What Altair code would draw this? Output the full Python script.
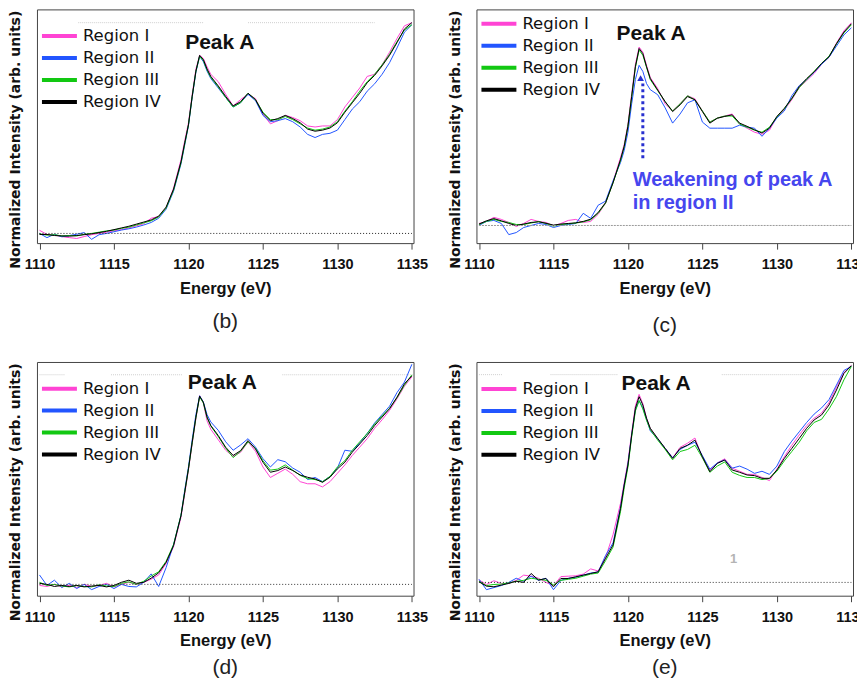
import altair as alt
import pandas as pd

# ---------------- data ----------------
ENERGY = [1110, 1110.5, 1111, 1111.5, 1112, 1112.5, 1113, 1113.5, 1114, 1114.5,
          1115, 1115.5, 1116, 1116.5, 1117, 1117.5, 1118, 1118.5, 1119, 1119.5,
          1119.75, 1120, 1120.25, 1120.5, 1120.75, 1121, 1121.25, 1121.5, 1122, 1122.5,
          1123, 1123.5, 1124, 1124.5, 1125, 1125.5, 1126, 1126.5, 1127, 1127.5,
          1128, 1128.5, 1129, 1129.5, 1130, 1130.5, 1131, 1131.5, 1132, 1132.5,
          1133, 1133.5, 1134, 1134.5, 1135]
REGIONS = ["Region I", "Region II", "Region III", "Region IV"]
COLORS = ["#ff44d4", "#2255ff", "#12c812", "#000000"]
X_TICKS = [1110, 1115, 1120, 1125, 1130, 1135]

B_I = [0.015, -0.005, -0.008, -0.015, -0.020, -0.024, -0.015, -0.006, 0.000, 0.006,
       0.012, 0.018, 0.026, 0.036, 0.046, 0.072, 0.080, 0.12, 0.215, 0.35,
       0.44, 0.525, 0.66, 0.78, 0.845, 0.83, 0.79, 0.755, 0.72, 0.66,
       0.605, 0.635, 0.66, 0.64, 0.565, 0.52, 0.535, 0.56, 0.55, 0.535,
       0.51, 0.505, 0.51, 0.51, 0.54, 0.60, 0.645, 0.69, 0.745, 0.755,
       0.80, 0.86, 0.925, 0.985, 1.0]
B_II = [0.0, -0.02, -0.004, -0.016, -0.010, -0.004, 0.004, -0.028, -0.006, 0.000,
        0.008, 0.016, 0.022, 0.030, 0.040, 0.052, 0.072, 0.115, 0.20, 0.33,
        0.42, 0.51, 0.645, 0.765, 0.84, 0.815, 0.77, 0.735, 0.69, 0.645,
        0.60, 0.62, 0.66, 0.63, 0.56, 0.53, 0.535, 0.545, 0.53, 0.505,
        0.47, 0.455, 0.47, 0.475, 0.49, 0.54, 0.59, 0.625, 0.675, 0.71,
        0.755, 0.81, 0.88, 0.955, 0.99]
B_III = [-0.002, -0.008, -0.006, -0.012, -0.010, -0.012, -0.004, 0.000, 0.006, 0.012,
         0.016, 0.024, 0.030, 0.040, 0.050, 0.060, 0.078, 0.12, 0.205, 0.335,
         0.425, 0.515, 0.65, 0.77, 0.84, 0.82, 0.775, 0.74, 0.695, 0.645,
         0.60, 0.62, 0.665, 0.635, 0.575, 0.54, 0.54, 0.555, 0.54, 0.52,
         0.50, 0.49, 0.495, 0.505, 0.53, 0.58, 0.625, 0.675, 0.72, 0.755,
         0.80, 0.85, 0.91, 0.965, 0.99]
B_IV = [-0.005, -0.005, -0.010, -0.012, -0.013, -0.010, -0.006, -0.002, 0.004, 0.010,
        0.018, 0.026, 0.034, 0.044, 0.054, 0.064, 0.082, 0.125, 0.21, 0.34,
        0.43, 0.515, 0.65, 0.77, 0.845, 0.825, 0.78, 0.745, 0.70, 0.65,
        0.605, 0.625, 0.665, 0.635, 0.57, 0.535, 0.545, 0.56, 0.545, 0.525,
        0.495, 0.485, 0.49, 0.50, 0.525, 0.575, 0.62, 0.665, 0.715, 0.75,
        0.795, 0.845, 0.905, 0.97, 1.0]

C_I = [0.01, 0.02, 0.04, 0.03, 0.015, -0.005, 0.01, 0.03, 0.02, 0.015,
       -0.002, 0.01, 0.025, 0.03, 0.015, 0.02, 0.055, 0.11, 0.215, 0.335,
       0.40, 0.50, 0.65, 0.795, 0.88, 0.855, 0.79, 0.73, 0.675, 0.60,
       0.565, 0.60, 0.64, 0.625, 0.565, 0.51, 0.53, 0.54, 0.55, 0.50,
       0.48, 0.46, 0.45, 0.47, 0.535, 0.57, 0.62, 0.68, 0.715, 0.75,
       0.795, 0.83, 0.90, 0.96, 1.0]
C_II = [0.0, 0.02, 0.025, 0.01, -0.045, -0.035, -0.01, 0.0, 0.01, 0.005,
        -0.01, 0.0, 0.005, 0.01, 0.06, 0.035, 0.10, 0.12, 0.22, 0.31,
        0.37, 0.46, 0.60, 0.72, 0.79, 0.76, 0.70, 0.67, 0.645, 0.58,
        0.505, 0.55, 0.605, 0.62, 0.51, 0.48, 0.48, 0.48, 0.48, 0.495,
        0.485, 0.48, 0.44, 0.48, 0.53, 0.565, 0.64, 0.69, 0.72, 0.755,
        0.795, 0.83, 0.885, 0.94, 0.975]
C_III = [0.005, 0.02, 0.03, 0.02, 0.015, 0.005, 0.005, 0.012, 0.02, 0.01,
         -0.003, 0.005, 0.008, 0.012, 0.018, 0.028, 0.06, 0.11, 0.21, 0.32,
         0.39, 0.49, 0.635, 0.78, 0.865, 0.84, 0.78, 0.72, 0.665, 0.61,
         0.565, 0.6, 0.64, 0.62, 0.565, 0.51, 0.53, 0.54, 0.54, 0.50,
         0.485, 0.47, 0.46, 0.485, 0.535, 0.575, 0.625, 0.68, 0.72, 0.76,
         0.80, 0.835, 0.895, 0.95, 0.99]
C_IV = [0.007, 0.023, 0.034, 0.023, 0.010, 0.000, 0.007, 0.015, 0.018, 0.011,
        0.002, 0.007, 0.010, 0.013, 0.020, 0.031, 0.064, 0.113, 0.211, 0.325,
        0.39, 0.489, 0.636, 0.783, 0.873, 0.848, 0.783, 0.725, 0.668, 0.611,
        0.562, 0.595, 0.636, 0.62, 0.562, 0.505, 0.529, 0.538, 0.546, 0.505,
        0.489, 0.472, 0.456, 0.48, 0.538, 0.578, 0.627, 0.685, 0.725, 0.758,
        0.799, 0.832, 0.897, 0.954, 0.995]

D_I = [-0.005, -0.01, 0.0, -0.012, -0.005, -0.015, 0.0, -0.01, -0.005, 0.005,
       -0.012, 0.0, 0.01, 0.0, 0.01, 0.025, 0.045, 0.1, 0.18, 0.32,
       0.43, 0.545, 0.67, 0.79, 0.9, 0.865, 0.78, 0.74, 0.69, 0.64,
       0.61, 0.63, 0.68, 0.635, 0.56, 0.51, 0.53, 0.55, 0.525, 0.49,
       0.48, 0.48, 0.465, 0.49, 0.53, 0.57, 0.615, 0.655, 0.695, 0.745,
       0.785, 0.83, 0.885, 0.945, 0.99]
D_II = [0.045, -0.005, 0.02, -0.015, 0.005, -0.02, 0.0, -0.025, -0.01, 0.0,
        -0.02, 0.0, -0.01, -0.012, 0.01, 0.05, -0.01, 0.08, 0.19, 0.33,
        0.45, 0.56, 0.69, 0.81, 0.9, 0.87, 0.81, 0.775, 0.735, 0.68,
        0.64, 0.665, 0.695, 0.655, 0.6, 0.56, 0.595, 0.585, 0.555, 0.535,
        0.5, 0.51, 0.49, 0.515, 0.555, 0.64, 0.635, 0.675, 0.72, 0.77,
        0.81, 0.85, 0.915, 0.965, 1.05]
D_III = [0.01, -0.005, 0.0, -0.008, -0.012, -0.006, -0.01, -0.012, -0.002, -0.008,
         -0.01, 0.005, 0.012, 0.0, 0.015, 0.04, 0.06, 0.11, 0.19, 0.33,
         0.44, 0.55, 0.675, 0.795, 0.895, 0.865, 0.795, 0.755, 0.705, 0.65,
         0.605, 0.635, 0.68, 0.65, 0.59, 0.545, 0.55, 0.57, 0.545, 0.52,
         0.505, 0.5, 0.49, 0.515, 0.56, 0.59, 0.64, 0.68, 0.72, 0.765,
         0.805, 0.84, 0.89, 0.95, 1.0]
D_IV = [0.005, 0.0, -0.010, -0.005, -0.010, -0.005, -0.012, -0.008, -0.005, -0.012,
        -0.005, 0.010, 0.020, 0.005, 0.010, 0.030, 0.055, 0.105, 0.185, 0.328,
        0.44, 0.551, 0.678, 0.798, 0.898, 0.869, 0.798, 0.758, 0.71, 0.654,
        0.615, 0.638, 0.686, 0.646, 0.583, 0.535, 0.543, 0.56, 0.543, 0.522,
        0.511, 0.503, 0.487, 0.511, 0.551, 0.583, 0.631, 0.67, 0.71, 0.758,
        0.798, 0.838, 0.893, 0.957, 0.995]

E_I = [0.012, -0.01, 0.008, -0.005, -0.005, 0.01, 0.035, 0.03, 0.02, 0.0,
       -0.015, 0.028, 0.03, 0.032, 0.04, 0.065, 0.055, 0.12, 0.23, 0.38,
       0.48, 0.58, 0.72, 0.85, 0.905, 0.86, 0.79, 0.74, 0.69, 0.645,
       0.6, 0.65, 0.67, 0.695, 0.6, 0.54, 0.575, 0.595, 0.55, 0.535,
       0.52, 0.52, 0.505, 0.49, 0.545, 0.605, 0.66, 0.71, 0.755, 0.79,
       0.815, 0.865, 0.94, 1.01, 1.045]
E_II = [0.015, -0.035, -0.025, -0.015, 0.0, 0.02, 0.005, 0.03, 0.01, 0.02,
        -0.035, 0.01, 0.02, 0.025, 0.035, 0.045, 0.05, 0.13, 0.19, 0.36,
        0.47, 0.57, 0.71, 0.83, 0.875, 0.84, 0.785, 0.73, 0.69, 0.645,
        0.6, 0.64, 0.66, 0.675, 0.61, 0.545, 0.575, 0.59, 0.55, 0.56,
        0.545, 0.525, 0.535, 0.52, 0.56, 0.63, 0.68, 0.725, 0.77, 0.81,
        0.84, 0.88, 0.95, 1.02, 1.04]
E_III = [0.005, -0.015, -0.01, -0.008, -0.002, 0.005, 0.01, 0.02, 0.015, 0.01,
         -0.012, 0.01, 0.015, 0.02, 0.03, 0.04, 0.045, 0.105, 0.17, 0.34,
         0.455, 0.555, 0.70, 0.825, 0.875, 0.835, 0.78, 0.735, 0.685, 0.64,
         0.59, 0.63, 0.64, 0.66, 0.60, 0.53, 0.56, 0.58, 0.53, 0.515,
         0.505, 0.505, 0.495, 0.5, 0.535, 0.585, 0.63, 0.675, 0.73, 0.77,
         0.785, 0.835, 0.895, 0.975, 1.04]
E_IV = [0.003, -0.018, -0.021, -0.013, -0.005, 0.006, 0.0, 0.043, 0.011, 0.019,
        -0.021, 0.019, 0.019, 0.027, 0.035, 0.043, 0.051, 0.116, 0.18, 0.356,
        0.469, 0.565, 0.709, 0.838, 0.894, 0.854, 0.79, 0.742, 0.693, 0.645,
        0.597, 0.645, 0.66, 0.685, 0.605, 0.533, 0.573, 0.589, 0.541, 0.53,
        0.517, 0.514, 0.501, 0.501, 0.541, 0.597, 0.645, 0.693, 0.742, 0.782,
        0.806, 0.854, 0.926, 1.006, 1.043]

# annotation texts
ANNOT_TEXT = ["Weakening of peak A", "in region II"]
ANNOT_X = [1120.32, 1120.32]
ANNOT_Y = [0.193, 0.079]

# ---------------- layout ----------------
W, H = 377, 234
XDOM = [1109.83, 1135.11]
BOLD_SANS = "Liberation Sans"


def make_panel(caption, series, ydom, legend_y, peak_xy, cap_off,
               base_color, base_dash, top_segments, extras=()):
    rows = []
    for reg, vals in zip(REGIONS, series):
        for e, v in zip(ENERGY, vals):
            rows.append({"energy": e, "intensity": v, "region": reg})
    df = pd.DataFrame(rows)

    xs = alt.Scale(domain=XDOM, nice=False, zero=False)
    ys = alt.Scale(domain=ydom, nice=False, zero=False)

    xaxis = alt.Axis(values=X_TICKS, format="d", grid=False, domain=False,
                     tickSize=6, tickColor="#444", tickWidth=1,
                     labelFont=BOLD_SANS, labelFontWeight="bold", labelFontSize=14.5,
                     labelColor="#111", labelBaseline="alphabetic", labelPadding=19.5,
                     title="Energy (eV)", titleFont=BOLD_SANS, titleFontWeight="bold",
                     titleFontSize=16.5, titleColor="#111", titleBaseline="alphabetic",
                     titleX=W / 2, titleY=50)
    yaxis = alt.Axis(labels=False, ticks=False, domain=False, grid=False,
                     title="Normalized Intensity (arb. units)", titleFont="DejaVu Sans",
                     titleFontWeight="bold", titleFontSize=14, titleColor="#111",
                     titleAngle=270, titleAlign="center", titleBaseline="middle",
                     titleX=-21, titleY=130)

    def X(field="energy"):
        return alt.X(f"{field}:Q", scale=xs, axis=xaxis)

    def Y(field="intensity"):
        return alt.Y(f"{field}:Q", scale=ys, axis=yaxis)

    lines = alt.Chart(df).mark_line(strokeWidth=1, clip=True).encode(
        x=X(), y=Y(),
        color=alt.Color("region:N", sort=REGIONS,
                        scale=alt.Scale(domain=REGIONS, range=COLORS),
                        legend=alt.Legend(orient="none", legendX=3, legendY=legend_y,
                                          title=None, symbolType="stroke",
                                          symbolStrokeWidth=4, symbolSize=1225,
                                          labelFont="DejaVu Sans", labelFontSize=16.5,
                                          labelColor="#111", labelOffset=4,
                                          padding=0, clipHeight=20, rowPadding=2)),
    )

    base_df = pd.DataFrame({"energy": [ENERGY[0]], "energy2": [ENERGY[-1]], "intensity": [0.0]})
    base = alt.Chart(base_df).mark_rule(color=base_color, strokeDash=base_dash, strokeWidth=1).encode(
        x=X(), x2="energy2:Q", y=Y())

    layers = [lines, base]
    if top_segments:
        top_df = pd.DataFrame({"energy": [s[0] for s in top_segments],
                               "energy2": [s[1] for s in top_segments],
                               "intensity": [1.0] * len(top_segments)})
        tops = alt.Chart(top_df).mark_rule(color="#cfcfcf", strokeDash=[1, 1], strokeWidth=1).encode(
            x=X(), x2="energy2:Q", y=Y())
        layers.append(tops)

    peak_df = pd.DataFrame({"energy": [peak_xy[0]], "intensity": [peak_xy[1]], "label": ["Peak A"]})
    peak = alt.Chart(peak_df).mark_text(font=BOLD_SANS, fontWeight="bold", fontSize=21,
                                        color="#111", align="center", baseline="alphabetic").encode(
        x=X(), y=Y(), text="label:N")
    layers.append(peak)

    for ex in extras:
        layers.extend(ex(X, Y))

    cap_df = pd.DataFrame({"label": [caption]})
    cap = alt.Chart(cap_df).mark_text(font=BOLD_SANS, fontSize=21, color="#222",
                                      align="center", baseline="alphabetic").encode(
        x=alt.value(W / 2), y=alt.value(H + cap_off), text="label:N")
    layers.append(cap)

    return alt.layer(*layers).properties(width=W, height=H)


def c_annotation(X, Y):
    txt = alt.Chart(pd.DataFrame({"energy": ANNOT_X, "intensity": ANNOT_Y, "label": ANNOT_TEXT})).mark_text(
        font=BOLD_SANS, fontWeight="bold", fontSize=20, color="#4646ee",
        align="left", baseline="alphabetic").encode(x=X(), y=Y(), text="label:N")
    arrow_line = alt.Chart(pd.DataFrame({"energy": [1121.0], "intensity": [0.332], "i2": [0.70]})).mark_rule(
        color="#2830d0", strokeWidth=3, strokeDash=[3, 3]).encode(x=X(), y=Y(), y2="i2:Q")
    head = alt.Chart(pd.DataFrame({"energy": [1120.85], "intensity": [0.727]})).mark_point(
        shape="triangle-up", filled=True, size=45, color="#2830d0", opacity=1).encode(x=X(), y=Y())
    return [arrow_line, head, txt]


def e_annotation(X, Y):
    return [alt.Chart(pd.DataFrame({"energy": [1127.1], "intensity": [0.115], "label": ["1"]})).mark_text(
        font=BOLD_SANS, fontWeight="bold", fontSize=13, color="#b4b4b4",
        align="center", baseline="middle").encode(x=X(), y=Y(), text="label:N")]


panel_b = make_panel("(b)", [B_I, B_II, B_III, B_IV], [-0.046, 1.063], 16.7,
                     (1122.1, 0.877), 84.5, "#222222", [1, 2],
                     [(1112.6, 1121.0), (1124.0, 1132.5)])
panel_c = make_panel("(c)", [C_I, C_II, C_III, C_IV], [-0.087, 1.066], 4.4,
                     (1121.56, 0.9165), 88.5, "#9a9a9a", [2, 1], [],
                     extras=(c_annotation,))
panel_d = make_panel("(d)", [D_I, D_II, D_III, D_IV], [-0.054, 1.061], 16.7,
                     (1122.28, 0.933), 78.5, "#333333", [1, 2],
                     [(1110.0, 1111.7), (1114.8, 1119.6), (1126.3, 1135.0)])
panel_e = make_panel("(e)", [E_I, E_II, E_III, E_IV], [-0.064, 1.061], 17.0,
                     (1121.89, 0.926), 78.5, "#333333", [1, 2],
                     [(1110.0, 1111.6), (1114.8, 1119.3), (1126.3, 1134.2)],
                     extras=(e_annotation,))

chart = alt.concat(panel_b, panel_c, panel_d, panel_e, columns=2,
                   spacing={"row": 119, "column": 63}, bounds="flush").resolve_legend(
    color="independent"
).configure(
    padding={"left": 0, "top": 0, "right": -11, "bottom": 0},
    background="white",
).configure_view(stroke="#444444", strokeWidth=1)

chart.save("out.html", embed_options={"renderer": "svg", "actions": False})
